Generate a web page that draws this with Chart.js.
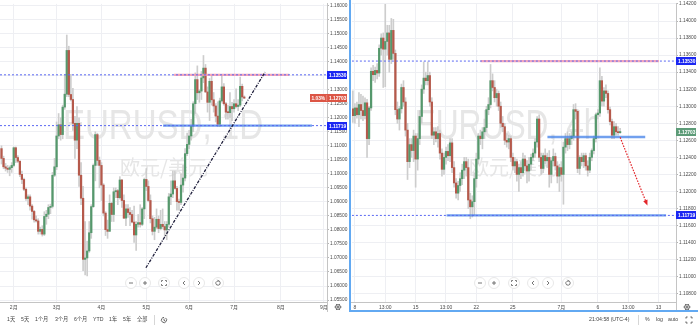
<!DOCTYPE html>
<html>
<head>
<meta charset="utf-8">
<script src="https://cdn.jsdelivr.net/npm/chart.js@4.4.0/dist/chart.umd.min.js"></script>
<style>
  html, body { margin: 0; padding: 0; background: #fff; }
  #wrap { position: relative; width: 698px; height: 327px; overflow: hidden; }
  canvas { position: absolute; top: 0; }
  #c1 { left: 0; }
  #c2 { left: 351px; }
  #ov { left: 0; pointer-events: none; }
</style>
</head>
<body>
<div id="wrap">
  <canvas id="c1" width="349" height="312"></canvas>
  <canvas id="c2" width="347" height="312"></canvas>
  <canvas id="ov" width="698" height="327"></canvas>
</div>
<script>
// EURUSD daily, Jan 23 .. Jul 8 (bar index 0..119)
const dayOpen = [
  1.1090,1.1055,1.1025,1.1020,1.1016,1.1022,1.1030,1.1093,1.1058,1.1045,
  1.0998,1.0980,1.0945,1.0912,1.0918,1.0885,1.0866,1.0836,1.0832,1.0795,
  1.0802,1.0785,1.0848,1.0856,1.0880,1.0884,1.0995,1.1025,1.1135,1.1175,
  1.1140,1.1238,1.1284,1.1440,1.1283,1.1265,1.1180,1.1120,1.1180,1.0995,
  1.0913,1.0695,1.0700,1.0725,1.0790,1.0883,1.1030,1.1140,1.1048,1.1030,
  1.0960,1.0860,1.0801,1.0795,1.0895,1.0855,1.0936,1.0940,1.0915,1.0978,
  1.0905,1.0842,1.0875,1.0862,1.0855,1.0828,1.0782,1.0820,1.0826,1.0820,
  1.0875,1.0980,1.0955,1.0905,1.0840,1.0795,1.0810,1.0838,1.0805,1.0820,
  1.0812,1.0800,1.0820,1.0918,1.0928,1.0975,1.0948,1.0901,1.0898,1.0960,
  1.0985,1.1072,1.1105,1.1135,1.1170,1.1250,1.1336,1.1289,1.1295,1.1342,
  1.1377,1.1292,1.1255,1.1330,1.1264,1.1242,1.1206,1.1177,1.1260,1.1310,
  1.1250,1.1220,1.1218,1.1240,1.1232,1.1250,1.1240,1.1245,1.1312,1.1274];
const dayHigh = [
  1.1100,1.1063,1.1037,1.1030,1.1028,1.1040,1.1096,1.1096,1.1065,1.1046,
  1.1010,1.0985,1.0950,1.0925,1.0925,1.0890,1.0870,1.0850,1.0840,1.0810,
  1.0815,1.0865,1.0870,1.0890,1.0892,1.1005,1.1055,1.1185,1.1215,1.1200,
  1.1245,1.1355,1.1495,1.1455,1.1355,1.1305,1.1205,1.1240,1.1200,1.1040,
  1.0955,1.0830,1.0760,1.0830,1.0890,1.1035,1.1150,1.1145,1.1060,1.1040,
  1.0965,1.0865,1.0835,1.0925,1.0898,1.0950,1.0950,1.0945,1.0990,1.0980,
  1.0925,1.0890,1.0890,1.0880,1.0870,1.0885,1.0830,1.0855,1.0890,1.0880,
  1.0985,1.1019,1.0975,1.0925,1.0850,1.0845,1.0875,1.0850,1.0870,1.0875,
  1.0830,1.0830,1.0930,1.0975,1.1010,1.1010,1.0955,1.0910,1.1000,1.1030,
  1.1090,1.1145,1.1155,1.1195,1.1257,1.1360,1.1385,1.1300,1.1365,1.1422,
  1.1390,1.1310,1.1340,1.1352,1.1290,1.1250,1.1257,1.1270,1.1349,1.1322,
  1.1255,1.1245,1.1290,1.1255,1.1265,1.1303,1.1265,1.1345,1.1320,1.1278];
const dayLow = [
  1.1035,1.1018,1.1010,1.1005,1.0993,1.1005,1.1025,1.1040,1.1040,1.0990,
  1.0965,1.0940,1.0905,1.0890,1.0870,1.0838,1.0828,1.0828,1.0785,1.0785,
  1.0778,1.0780,1.0820,1.0840,1.0858,1.0878,1.0990,1.1015,1.1125,1.1120,
  1.1125,1.1230,1.1275,1.1275,1.1260,1.1155,1.1055,1.1090,1.0955,1.0890,
  1.0655,1.0640,1.0636,1.0720,1.0770,1.0880,1.0975,1.1030,1.0950,1.0905,
  1.0850,1.0780,1.0770,1.0795,1.0830,1.0830,1.0915,1.0890,1.0910,1.0880,
  1.0840,1.0815,1.0845,1.0815,1.0825,1.0755,1.0727,1.0810,1.0810,1.0815,
  1.0840,1.0940,1.0900,1.0825,1.0782,1.0765,1.0805,1.0790,1.0800,1.0805,
  1.0775,1.0765,1.0810,1.0890,1.0915,1.0945,1.0870,1.0870,1.0890,1.0935,
  1.0975,1.1065,1.1090,1.1120,1.1150,1.1215,1.1265,1.1255,1.1265,1.1325,
  1.1290,1.1220,1.1190,1.1245,1.1220,1.1185,1.1168,1.1168,1.1255,1.1245,
  1.1195,1.1195,1.1200,1.1190,1.1220,1.1235,1.1225,1.1240,1.1260,1.1268];
const dayClose = [
  1.1055,1.1025,1.1020,1.1016,1.1022,1.1030,1.1093,1.1058,1.1045,1.0998,
  1.0980,1.0945,1.0912,1.0918,1.0885,1.0866,1.0836,1.0832,1.0795,1.0802,
  1.0785,1.0848,1.0856,1.0880,1.0884,1.0995,1.1025,1.1135,1.1175,1.1140,
  1.1238,1.1284,1.1440,1.1283,1.1265,1.1180,1.1120,1.1180,1.0995,1.0913,
  1.0695,1.0700,1.0725,1.0790,1.0883,1.1030,1.1140,1.1048,1.1030,1.0960,
  1.0860,1.0801,1.0795,1.0895,1.0855,1.0936,1.0940,1.0915,1.0978,1.0905,
  1.0842,1.0875,1.0862,1.0855,1.0828,1.0782,1.0820,1.0826,1.0820,1.0875,
  1.0980,1.0955,1.0905,1.0840,1.0795,1.0810,1.0838,1.0805,1.0820,1.0812,
  1.0800,1.0820,1.0918,1.0928,1.0975,1.0948,1.0901,1.0898,1.0960,1.0985,
  1.1072,1.1105,1.1135,1.1170,1.1250,1.1336,1.1289,1.1295,1.1342,1.1377,
  1.1292,1.1255,1.1330,1.1264,1.1242,1.1206,1.1177,1.1260,1.1310,1.1250,
  1.1220,1.1218,1.1240,1.1232,1.1250,1.1240,1.1245,1.1312,1.1274,1.1270];
const dayMonthPos = [6, 27, 49, 71, 92, 114, 137, 158];
const dayMonthLabels = ['2月', '3月', '4月', '5月', '6月', '7月', '8月', '9月'];
const dayPriceTicks = [1.055, 1.06, 1.065, 1.07, 1.075, 1.08, 1.085, 1.09, 1.095, 1.10, 1.105,
  1.11, 1.115, 1.12, 1.125, 1.13, 1.135, 1.14, 1.145, 1.15, 1.155, 1.16];

// EURUSD 4h, Jun 7 21:00 .. Jul 7 21:00 (bar index 1..133)
const h4Start = 1;
const h4Open = [
  1.1297,1.1289,1.1298,1.1290,1.1302,1.1295,1.1289,1.1304,1.1262,1.1298,
  1.1341,1.1337,1.1342,1.1339,1.1368,1.1380,1.1367,1.1376,1.1386,1.1355,
  1.1389,1.1362,1.1296,1.1285,1.1297,1.1322,1.1305,1.1272,1.1235,1.1255,
  1.1248,1.1265,1.1238,1.1262,1.1288,1.1320,1.1333,1.1330,1.1336,1.1305,
  1.1266,1.1270,1.1262,1.1268,1.1245,1.1226,1.1240,1.1247,1.1242,1.1257,
  1.1228,1.1210,1.1198,1.1207,1.1215,1.1225,1.1235,1.1228,1.1190,1.1182,
  1.1188,1.1215,1.1238,1.1265,1.1262,1.1270,1.1275,1.1296,1.1302,1.1330,
  1.1322,1.1310,1.1315,1.1300,1.1280,1.1276,1.1260,1.1258,1.1262,1.1240,
  1.1230,1.1235,1.1220,1.1228,1.1222,1.1238,1.1230,1.1224,1.1232,1.1240,
  1.1245,1.1258,1.1285,1.1240,1.1227,1.1242,1.1236,1.1240,1.1220,1.1236,
  1.1241,1.1230,1.1218,1.1228,1.1220,1.1252,1.1262,1.1255,1.1262,1.1265,
  1.1296,1.1294,1.1227,1.1240,1.1235,1.1242,1.1230,1.1225,1.1240,1.1248,
  1.1262,1.1290,1.1292,1.1330,1.1306,1.1318,1.1315,1.1296,1.1282,1.1266,
  1.1276,1.1270,1.1269];
const h4High = [
  1.1318,1.1303,1.1305,1.1316,1.1314,1.1312,1.1310,1.1308,1.1300,1.1345,
  1.1348,1.1346,1.1350,1.1372,1.1385,1.1386,1.1422,1.1395,1.1395,1.1403,
  1.1402,1.1366,1.1305,1.1300,1.1326,1.1330,1.1310,1.1280,1.1262,1.1262,
  1.1272,1.1268,1.1268,1.1295,1.1325,1.1352,1.1340,1.1352,1.1340,1.1310,
  1.1275,1.1275,1.1276,1.1272,1.1250,1.1245,1.1252,1.1255,1.1262,1.1262,
  1.1235,1.1215,1.1212,1.1222,1.1232,1.1240,1.1240,1.1238,1.1198,1.1195,
  1.1222,1.1245,1.1268,1.1272,1.1275,1.1285,1.1300,1.1310,1.1349,1.1338,
  1.1330,1.1320,1.1318,1.1305,1.1288,1.1280,1.1268,1.1266,1.1265,1.1245,
  1.1240,1.1238,1.1232,1.1235,1.1245,1.1242,1.1236,1.1240,1.1244,1.1250,
  1.1262,1.1288,1.1290,1.1245,1.1245,1.1250,1.1245,1.1248,1.1240,1.1250,
  1.1245,1.1235,1.1232,1.1235,1.1258,1.1268,1.1270,1.1268,1.1270,1.1302,
  1.1303,1.1296,1.1242,1.1245,1.1245,1.1245,1.1236,1.1245,1.1250,1.1265,
  1.1292,1.1296,1.1345,1.1335,1.1322,1.1325,1.1318,1.1299,1.1285,1.1282,
  1.1280,1.1276,1.1274];
const h4Low = [
  1.1281,1.1280,1.1286,1.1276,1.1285,1.1283,1.1285,1.1240,1.1255,1.1295,
  1.1330,1.1328,1.1332,1.1335,1.1360,1.1322,1.1323,1.1360,1.1340,1.1350,
  1.1355,1.1290,1.1280,1.1272,1.1292,1.1300,1.1265,1.1214,1.1228,1.1240,
  1.1235,1.1205,1.1225,1.1255,1.1280,1.1315,1.1325,1.1325,1.1300,1.1262,
  1.1255,1.1258,1.1252,1.1238,1.1218,1.1220,1.1232,1.1236,1.1235,1.1222,
  1.1205,1.1192,1.1190,1.1200,1.1208,1.1215,1.1218,1.1180,1.1168,1.1170,
  1.1172,1.1205,1.1232,1.1255,1.1250,1.1262,1.1270,1.1290,1.1298,1.1318,
  1.1305,1.1300,1.1295,1.1275,1.1270,1.1255,1.1252,1.1250,1.1235,1.1225,
  1.1222,1.1212,1.1200,1.1215,1.1218,1.1225,1.1210,1.1212,1.1225,1.1236,
  1.1240,1.1252,1.1235,1.1220,1.1222,1.1232,1.1228,1.1205,1.1210,1.1230,
  1.1225,1.1210,1.1200,1.1212,1.1185,1.1245,1.1248,1.1250,1.1255,1.1260,
  1.1285,1.1222,1.1220,1.1230,1.1228,1.1225,1.1218,1.1222,1.1236,1.1244,
  1.1258,1.1285,1.1288,1.1300,1.1300,1.1310,1.1292,1.1278,1.1262,1.1262,
  1.1266,1.1266,1.1268];
const h4Close = [
  1.1289,1.1298,1.1290,1.1302,1.1295,1.1289,1.1304,1.1262,1.1298,1.1341,
  1.1337,1.1342,1.1339,1.1368,1.1380,1.1367,1.1376,1.1386,1.1355,1.1389,
  1.1362,1.1296,1.1285,1.1297,1.1322,1.1305,1.1272,1.1235,1.1255,1.1248,
  1.1265,1.1238,1.1262,1.1288,1.1320,1.1333,1.1330,1.1336,1.1305,1.1266,
  1.1270,1.1262,1.1268,1.1245,1.1226,1.1240,1.1247,1.1242,1.1257,1.1228,
  1.1210,1.1198,1.1207,1.1215,1.1225,1.1235,1.1228,1.1190,1.1182,1.1188,
  1.1215,1.1238,1.1265,1.1262,1.1270,1.1275,1.1296,1.1302,1.1330,1.1322,
  1.1310,1.1315,1.1300,1.1280,1.1276,1.1260,1.1258,1.1262,1.1240,1.1230,
  1.1235,1.1220,1.1228,1.1222,1.1238,1.1230,1.1224,1.1232,1.1240,1.1245,
  1.1258,1.1285,1.1240,1.1227,1.1242,1.1236,1.1240,1.1220,1.1236,1.1241,
  1.1230,1.1218,1.1228,1.1220,1.1252,1.1262,1.1255,1.1262,1.1265,1.1296,
  1.1294,1.1227,1.1240,1.1235,1.1242,1.1230,1.1225,1.1240,1.1248,1.1262,
  1.1290,1.1292,1.1330,1.1306,1.1318,1.1315,1.1296,1.1282,1.1266,1.1276,
  1.1270,1.1269,1.12703];
const h4TimePos = [2, 17, 32, 47, 62, 80, 104, 122, 137, 152];
const h4TimeLabels = ['8', '13:00', '15', '13:00', '22', '25', '7月', '6', '13:00', '13'];
const h4PriceTicks = [1.108, 1.110, 1.112, 1.114, 1.116, 1.118, 1.120, 1.122, 1.124, 1.126,
  1.128, 1.130, 1.132, 1.134, 1.136, 1.138, 1.140, 1.142];

// levels and drawings (x in bar index, y in price)
const resistance = 1.13530;
const support = 1.11719;
const lastPrice = 1.12703;
const neckline = 1.12639;
const dayResSeg = [84.6, 141.0];
const daySupSeg = [79.2, 152.2];
const dayTrendX = [70.8, 129.2];
const dayTrendY = [1.0665, 1.13629];
const h4ResSeg = [64.1, 152.2];
const h4NeckSeg = [97.1, 145.4];
const h4SupSeg = [47.3, 155.7];
const h4ArrowX = [133.0, 146.3];
const h4ArrowY = [1.12635, 1.11847];

const GREEN = '#55986c', RED = '#b5594b', WICK = '#cdcdcd';
const TAG_BLUE = '#1b27f2', TAG_RED = '#dc5545', TAG_GREEN = '#5c9b77';
const DOT_BLUE = '#5a68f2';
const SANS = '"Liberation Sans", "Noto Sans CJK SC", sans-serif';
const CJK = '"Noto Sans CJK SC", sans-serif';
const GRID = '#eeeff3', AXIS = '#c4c4c4', TXT = '#4a4a4a';

function candleSets(o, h, l, c, start) {
  const col = c.map((v, i) => (v >= o[i] ? GREEN : RED));
  return [
    { type: 'bar', label: 'wick', data: h.map((v, i) => ({ x: i + start, y: [l[i], v] })),
      backgroundColor: WICK, barThickness: 1, grouped: false, order: 6 },
    { type: 'bar', label: 'body', data: o.map((v, i) => ({ x: i + start, y: [v, c[i]] })),
      backgroundColor: col, barThickness: 1.6, minBarLength: 1, grouped: false, order: 5 }
  ];
}

function seg(label, xs, ys, color, width, dash, order) {
  return { type: 'line', label, data: [{ x: xs[0], y: ys[0] }, { x: xs[1], y: ys[1] }],
    borderColor: color, borderWidth: width, borderDash: dash, pointRadius: 0,
    fill: false, tension: 0, order };
}

function navButtons(ctx, xs, y) {
  xs.forEach((x, k) => {
    ctx.beginPath();
    ctx.arc(x, y, 5.5, 0, Math.PI * 2);
    ctx.fillStyle = 'rgba(255,255,255,0.95)';
    ctx.fill();
    ctx.strokeStyle = '#e2e2e2';
    ctx.lineWidth = 0.8;
    ctx.stroke();
    ctx.strokeStyle = '#666';
    ctx.lineWidth = 0.9;
    ctx.beginPath();
    if (k === 0) { ctx.moveTo(x - 2, y); ctx.lineTo(x + 2, y); }
    if (k === 1) { ctx.moveTo(x - 2, y); ctx.lineTo(x + 2, y); ctx.moveTo(x, y - 2); ctx.lineTo(x, y + 2); }
    if (k === 2) {
      [[-1, -1], [1, -1], [-1, 1], [1, 1]].forEach(([sx, sy]) => {
        ctx.moveTo(x + sx * 2.5, y + sy * 1.1);
        ctx.lineTo(x + sx * 2.5, y + sy * 2.5);
        ctx.lineTo(x + sx * 1.1, y + sy * 2.5);
      });
    }
    if (k === 3) { ctx.moveTo(x + 1, y - 2); ctx.lineTo(x - 1, y); ctx.lineTo(x + 1, y + 2); }
    if (k === 4) { ctx.moveTo(x - 1, y - 2); ctx.lineTo(x + 1, y); ctx.lineTo(x - 1, y + 2); }
    if (k === 5) {
      ctx.arc(x, y, 2.2, -Math.PI * 0.55, Math.PI * 1.25);
      ctx.moveTo(x - 0.6, y - 3.2); ctx.lineTo(x + 0.4, y - 2.2); ctx.lineTo(x - 0.6, y - 1.2);
    }
    ctx.stroke();
  });
}

const tvOverlay = {
  id: 'tvOverlay',
  beforeDatasetsDraw(chart, args, opts) {
    const { ctx, chartArea: a } = chart;
    ctx.save();
    ctx.beginPath();
    ctx.rect(a.left, a.top, a.width, a.height);
    ctx.clip();
    ctx.fillStyle = '#e6e6e6';
    ctx.textAlign = 'center';
    ctx.textBaseline = 'middle';
    ctx.font = '42px ' + SANS;
    const w = ctx.measureText(opts.mark).width;
    ctx.save();
    ctx.translate(opts.markX, 127);
    ctx.scale(opts.markW / w, 1);
    ctx.fillText(opts.mark, 0, 0);
    ctx.restore();
    ctx.font = '20px ' + CJK;
    ctx.fillText('欧元/美元', opts.subX, 167);
    ctx.restore();
  },
  afterDatasetsDraw(chart, args, opts) {
    const { ctx } = chart;
    const idx = chart.data.datasets.findIndex(d => d.label === 'arrow');
    if (idx >= 0) {
      const pts = chart.getDatasetMeta(idx).data;
      const p0 = pts[0], p1 = pts[1];
      const ang = Math.atan2(p1.y - p0.y, p1.x - p0.x);
      ctx.save();
      ctx.translate(p1.x, p1.y);
      ctx.rotate(ang);
      ctx.beginPath();
      ctx.moveTo(1, 0);
      ctx.lineTo(-4.5, -2.3);
      ctx.lineTo(-4.5, 2.3);
      ctx.closePath();
      ctx.fillStyle = '#e3262b';
      ctx.fill();
      ctx.restore();
    }
    ctx.save();
    navButtons(ctx, opts.nav, 283);
    ctx.restore();
  },
  afterDraw(chart, args, opts) {
    const { ctx, chartArea: a } = chart;
    const ys = chart.scales.y;
    ctx.save();
    ctx.textBaseline = 'middle';
    ctx.textAlign = 'left';
    ctx.font = 'bold 4.8px ' + SANS;
    opts.tags.forEach(t => {
      const y = Math.round(ys.getPixelForValue(t.v));
      const x0 = t.pre ? a.right - 17 : a.right;
      ctx.fillStyle = t.bg;
      ctx.fillRect(x0, y - 4, a.right + 20 - x0, 8);
      ctx.fillStyle = '#fff';
      if (t.pre) {
        ctx.fillText(t.pre, x0 + 1.5, y + 0.3);
        ctx.fillStyle = 'rgba(255,255,255,0.5)';
        ctx.fillRect(a.right - 0.5, y - 3, 0.6, 6);
        ctx.fillStyle = '#fff';
      }
      ctx.fillText(t.txt, a.right + 2, y + 0.3);
    });
    ctx.restore();
  }
};

function makeChart(el, cfg) {
  return new Chart(el, {
    type: 'bar',
    data: { datasets: cfg.datasets },
    options: {
      responsive: false,
      animation: false,
      devicePixelRatio: 1,
      layout: { padding: 0 },
      events: [],
      plugins: {
        legend: { display: false },
        tooltip: { enabled: false },
        tvOverlay: cfg.overlay
      },
      scales: {
        x: {
          type: 'linear', min: cfg.xMin, max: cfg.xMax, offset: false,
          afterBuildTicks: ax => { ax.ticks = cfg.xTicks.map(v => ({ value: v })); },
          ticks: { callback: (v, i) => cfg.xLabels[i], font: { family: SANS, size: 5 }, color: TXT,
            maxRotation: 0, autoSkip: false, padding: 2.5 },
          grid: { color: GRID, drawTicks: false, offset: false },
          border: { color: AXIS },
          afterFit: s => { s.height = 10; }
        },
        y: {
          type: 'linear', position: 'right', min: cfg.yMin, max: cfg.yMax,
          afterBuildTicks: ax => { ax.ticks = cfg.yTicks.map(v => ({ value: v })); },
          ticks: {
            callback: v => (Math.abs(v - resistance) < cfg.hideTol ? '' : v.toFixed(5)),
            font: { family: SANS, size: 4.8 }, color: TXT, padding: 1, autoSkip: false
          },
          grid: { color: GRID, tickLength: 2, tickColor: '#b5b5b5' },
          border: { color: AXIS },
          afterFit: s => { s.width = 22; }
        }
      }
    },
    plugins: [tvOverlay]
  });
}

// daily panel
const dayX = [-0.735, 159.56];
makeChart(document.getElementById('c1'), {
  xMin: dayX[0], xMax: dayX[1], yMin: 1.0543, yMax: 1.1606,
  xTicks: dayMonthPos, xLabels: dayMonthLabels, yTicks: dayPriceTicks, hideTol: 0.001,
  datasets: [
    seg('trend', dayTrendX, dayTrendY, '#1d1d3a', 1.3, [3, 1.3, 1, 1.3], 1),
    seg('resDot', dayX, [resistance, resistance], DOT_BLUE, 1, [2, 2], 2),
    seg('supDot', dayX, [support, support], DOT_BLUE, 1, [2, 2], 2),
    seg('resSeg', dayResSeg, [resistance, resistance], 'rgba(243,150,175,0.85)', 2.2, [], 3),
    seg('supSeg', daySupSeg, [support, support], 'rgba(66,128,232,0.75)', 2.4, [], 3),
    ...candleSets(dayOpen, dayHigh, dayLow, dayClose, 0)
  ],
  overlay: {
    mark: 'EURUSD, 1D', markX: 163, markW: 200, subX: 164,
    nav: [131, 145, 164, 184, 199, 218],
    tags: [
      { v: resistance, bg: TAG_BLUE, txt: '1.13530' },
      { v: lastPrice, bg: TAG_RED, txt: '1.12703', pre: '1.03%' },
      { v: support, bg: TAG_BLUE, txt: '1.11719' }
    ]
  }
});

// 4h panel
const h4X = [0.52, 160.6];
makeChart(document.getElementById('c2'), {
  xMin: h4X[0], xMax: h4X[1], yMin: 1.10703, yMax: 1.14201,
  xTicks: h4TimePos, xLabels: h4TimeLabels, yTicks: h4PriceTicks, hideTol: 0.0003,
  datasets: [
    seg('arrow', h4ArrowX, h4ArrowY, '#e3262b', 1.2, [1.6, 1.3], 0),
    seg('resDot', h4X, [resistance, resistance], DOT_BLUE, 1, [2, 2], 2),
    seg('supDot', h4X, [support, support], DOT_BLUE, 1, [2, 2], 2),
    seg('resSeg', h4ResSeg, [resistance, resistance], 'rgba(243,150,175,0.85)', 2.2, [], 3),
    seg('neckSeg', h4NeckSeg, [neckline, neckline], 'rgba(66,128,232,0.75)', 2.4, [], 3),
    seg('supSeg', h4SupSeg, [support, support], 'rgba(66,128,232,0.75)', 2.4, [], 3),
    ...candleSets(h4Open, h4High, h4Low, h4Close, h4Start)
  ],
  overlay: {
    mark: 'EURUSD, 4h', markX: 157, markW: 187, subX: 162,
    nav: [129, 143, 163, 182, 197, 217],
    tags: [
      { v: resistance, bg: TAG_BLUE, txt: '1.13530' },
      { v: lastPrice, bg: TAG_GREEN, txt: '1.12703' },
      { v: support, bg: TAG_BLUE, txt: '1.11719' }
    ]
  }
});

// frame, gears and bottom toolbar
(function drawFrame() {
  const ctx = document.getElementById('ov').getContext('2d');
  function gear(x, y) {
    ctx.strokeStyle = '#555';
    ctx.lineWidth = 0.9;
    ctx.beginPath();
    ctx.arc(x, y, 2.4, 0, Math.PI * 2);
    ctx.stroke();
    ctx.beginPath();
    for (let k = 0; k < 6; k++) {
      const t = k * Math.PI / 3;
      ctx.moveTo(x + Math.cos(t) * 2.4, y + Math.sin(t) * 2.4);
      ctx.lineTo(x + Math.cos(t) * 3.5, y + Math.sin(t) * 3.5);
    }
    ctx.stroke();
    ctx.beginPath();
    ctx.arc(x, y, 0.9, 0, Math.PI * 2);
    ctx.stroke();
  }
  ctx.strokeStyle = AXIS;
  ctx.lineWidth = 1;
  ctx.beginPath();
  ctx.moveTo(327.5, 302); ctx.lineTo(327.5, 312);
  ctx.moveTo(676.5, 302); ctx.lineTo(676.5, 311);
  ctx.stroke();
  gear(338, 307);
  gear(687, 307);

  ctx.strokeStyle = '#62a9f2';
  ctx.lineWidth = 2;
  ctx.beginPath();
  ctx.moveTo(350, 0); ctx.lineTo(350, 311);
  ctx.lineTo(698, 311);
  ctx.stroke();

  ctx.fillStyle = '#444';
  ctx.textBaseline = 'middle';
  ctx.font = '5.2px ' + SANS;
  const ranges = ['1天', '5天', '1个月', '3个月', '6个月', 'YTD', '1年', '5年', '全部'];
  const rangeX = [7, 21, 35, 55, 74, 93, 109, 123, 137];
  ranges.forEach((t, i) => ctx.fillText(t, rangeX[i], 320));
  ctx.fillText('21:04:58 (UTC-4)', 589, 320);
  ctx.fillText('%', 645, 320);
  ctx.fillText('log', 656, 320);
  ctx.fillText('auto', 668, 320);

  ctx.strokeStyle = '#d6d6d6';
  ctx.lineWidth = 1;
  ctx.beginPath();
  ctx.moveTo(154.5, 315); ctx.lineTo(154.5, 325);
  ctx.moveTo(638.5, 315); ctx.lineTo(638.5, 325);
  ctx.stroke();

  ctx.strokeStyle = '#555';
  ctx.lineWidth = 0.9;
  ctx.beginPath();
  ctx.arc(164, 320, 2.6, -Math.PI * 0.3, Math.PI * 1.5);
  ctx.moveTo(164, 318.6); ctx.lineTo(164, 320.4); ctx.lineTo(165.2, 321);
  ctx.stroke();
  ctx.beginPath();
  [[-1, -1], [1, -1], [-1, 1], [1, 1]].forEach(([sx, sy]) => {
    ctx.moveTo(689 + sx * 3, 320 + sy * 1.4);
    ctx.lineTo(689 + sx * 3, 320 + sy * 3);
    ctx.lineTo(689 + sx * 1.4, 320 + sy * 3);
  });
  ctx.stroke();
})();
</script>
</body>
</html>
